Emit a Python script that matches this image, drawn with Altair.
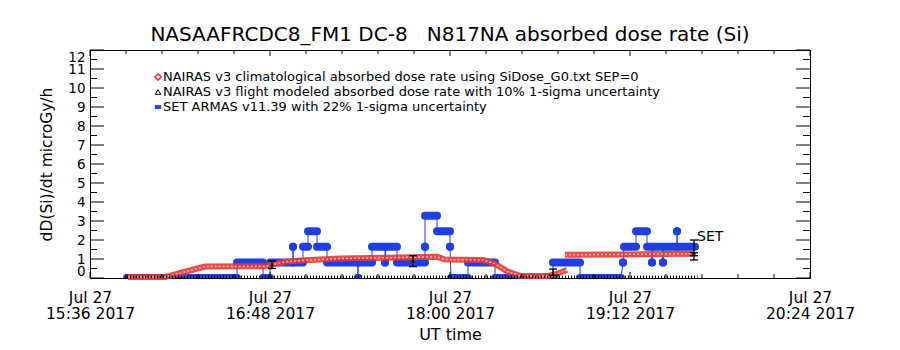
import altair as alt
import pandas as pd

FONT = "DejaVu Sans"
BLUE = "#1f3fe0"
RED = "#e23a36"

# ---------------- texts ----------------
title_text = "NASAAFRCDC8_FM1 DC-8\u00a0\u00a0 N817NA absorbed dose rate (Si)"
y_title = "dD(Si)/dt microGy/h"
x_title = "UT time"
date_label = "Jul 27"
year_label = "2017"
set_label = "SET"
legend_labels = [
    "NAIRAS v3 climatological absorbed dose rate using SiDose_G0.txt SEP=0",
    "NAIRAS v3 flight modeled absorbed dose rate with 10% 1-sigma uncertainty",
    "SET ARMAS v11.39 with 22% 1-sigma uncertainty",
]

# ---------------- axes ----------------
x_range = ["15:36", "20:24"]
x_tick_times = ["15:36", "16:48", "18:00", "19:12", "20:24"]
y_tick_values = list(range(0, 13))

# ---------------- data ----------------
# NAIRAS v3 climatological (red)
red_time = ["15:51:12", "16:06:00", "16:14:00", "16:22:00", "16:46:00", "16:54:00",
            "17:00:00", "17:16:00", "17:40:00", "17:54:48", "17:58:00", "18:13:12",
            "18:18:00", "18:22:48", "18:28:00", "18:38:48", "18:42:24", "18:46:48",
            "18:46:00", "19:08:00", "19:37:12"]
red_value = [0.05, 0.05, 0.33, 0.60, 0.62, 0.85,
             0.92, 1.02, 1.08, 1.12, 0.97, 0.95,
             0.75, 0.35, 0.12, 0.10, 0.20, 0.42,
             1.22, 1.24, 1.28]
red_segment = [1] * 18 + [2] * 3

# SET ARMAS (blue): runs of constant dose rate
set_start = ["15:50:48", "16:34:48", "16:45:12", "16:48:00", "16:57:12", "16:57:12",
             "17:01:12", "17:03:12", "17:06:48", "17:10:48", "17:23:12", "17:23:12",
             "17:28:48", "17:34:00", "17:34:24", "17:38:48", "17:50:00", "17:50:00",
             "17:54:48", "18:00:00", "18:00:24", "18:07:12", "18:18:00", "18:41:12",
             "18:52:00", "19:09:12", "19:09:36", "19:14:24", "19:18:48", "19:20:48",
             "19:21:12", "19:25:12", "19:25:36", "19:30:48", "19:30:48"]
set_end = ["16:34:48", "16:45:12", "16:48:00", "16:57:12", "16:57:12", "17:01:12",
           "17:03:12", "17:06:48", "17:10:48", "17:23:12", "17:23:12", "17:28:48",
           "17:34:00", "17:34:00", "17:38:48", "17:50:00", "17:50:00", "17:54:48",
           "18:00:00", "18:00:00", "18:07:12", "18:18:00", "18:41:12", "18:52:00",
           "19:08:24", "19:09:12", "19:14:24", "19:18:48", "19:20:48", "19:20:48",
           "19:24:48", "19:25:12", "19:30:48", "19:30:48", "19:38:00"]
set_level = [0.00, 0.82, 0.00, 0.82, 1.64, 0.82,
             1.64, 2.46, 1.64, 0.82, 0.00, 0.82,
             1.64, 0.82, 1.64, 0.82, 1.64, 3.28,
             2.46, 1.64, 0.00, 0.82, 0.00, 0.82,
             0.00, 0.82, 1.64, 2.46, 1.64, 0.82,
             1.64, 0.82, 1.64, 2.46, 1.64]

# NAIRAS v3 flight modeled (black) and uncertainty bars
flight_time = ["15:50:48", "19:39:00"]
flight_value = [0.0, 0.0]
err_time = ["16:48:48", "17:45:12", "18:41:12", "19:37:36"]
err_center = [0.72, 0.90, 0.20, 1.33]
err_low = [0.50, 0.60, 0.15, 0.95]
err_high = [0.90, 1.17, 0.47, 2.00]
extra_cap_time = ["19:37:36", "19:37:36"]
extra_cap_value = [1.33, 1.17]


def to_min(s):
    p = [float(v) for v in s.split(":")]
    return p[0] * 60 + p[1] + (p[2] / 60 if len(p) > 2 else 0)


red_df = pd.DataFrame({"t": [to_min(s) for s in red_time], "v": red_value,
                       "seg": red_segment, "order": list(range(len(red_time)))})
runs_df = pd.DataFrame({"t": [to_min(s) for s in set_start],
                        "t2": [to_min(s) for s in set_end], "v": set_level})
dots_df = runs_df[runs_df["t"] == runs_df["t2"]]
verts = []
for i, (a, b, lv) in enumerate(zip(set_start, set_end, set_level)):
    verts.append({"t": to_min(a), "v": lv, "order": 2 * i})
    verts.append({"t": to_min(b), "v": lv, "order": 2 * i + 1})
verts_df = pd.DataFrame(verts)
flight_df = pd.DataFrame({"t": [to_min(flight_time[0])], "t2": [to_min(flight_time[1])],
                          "v": [flight_value[0]]})
err_df = pd.DataFrame({"t": [to_min(s) for s in err_time], "c": err_center,
                       "lo": err_low, "hi": err_high})
caps_df = pd.DataFrame({"t": [to_min(s) for s in err_time] * 2 + [to_min(s) for s in extra_cap_time],
                        "v": err_low + err_high + extra_cap_value})
set_df = pd.DataFrame({"t": [to_min(err_time[-1])], "v": [err_high[-1]], "label": [set_label]})

x_major = [to_min(s) for s in x_tick_times]
x_minor = []
for a, b in zip(x_major[:-1], x_major[1:]):
    for k in range(1, 5):
        x_minor.append(a + (b - a) * k / 5)
y_minor = [v + 0.5 for v in y_tick_values[:-1]]

xmaj_df = pd.DataFrame({"t": x_major})
xmin_df = pd.DataFrame({"t": x_minor})
ymaj_df = pd.DataFrame({"v": y_tick_values})
ymin_df = pd.DataFrame({"v": y_minor})
one_df = pd.DataFrame({"k": [0]})

# ---------------- scales & axes ----------------
xs = alt.Scale(domain=[to_min(x_range[0]), to_min(x_range[1])], nice=False, zero=False)
ys = alt.Scale(domain=[0, 12], nice=False, zero=True)

x_label_expr = (
    f"['{date_label}', floor(datum.value / 60) + ':' + "
    f"(round(datum.value % 60) < 10 ? '0' : '') + round(datum.value % 60) + ' {year_label}']"
)
xaxis = alt.Axis(values=x_major, labelExpr=x_label_expr, ticks=False, tickSize=0, domain=False,
                 grid=False, labelFlush=False, labelOverlap=False, labelFont=FONT,
                 labelFontSize=15.5, labelColor="black", labelPadding=12, labelLineHeight=16,
                 title=x_title, titleFont=FONT, titleFontSize=16, titleFontWeight="normal",
                 titleColor="black", titlePadding=5)
yaxis = alt.Axis(values=y_tick_values, format="d", ticks=False, tickSize=0, domain=False,
                 grid=False, labelFlush=True, labelOverlap=False, labelFont=FONT,
                 labelFontSize=13.5, labelColor="black", labelPadding=5,
                 title=y_title, titleFont=FONT, titleFontSize=15.5, titleFontWeight="normal",
                 titleColor="black", titlePadding=13)


def X(f="t"):
    return alt.X(f, type="quantitative", scale=xs, axis=xaxis)


def Y(f="v"):
    return alt.Y(f, type="quantitative", scale=ys, axis=yaxis)


layers = []

# blue SET ARMAS
layers.append(alt.Chart(verts_df).mark_line(color=BLUE, strokeWidth=1, clip=True)
              .encode(x=X(), y=Y(), order="order:Q"))
layers.append(alt.Chart(runs_df).mark_rule(color=BLUE, strokeWidth=8, strokeCap="round", clip=True)
              .encode(x=X(), x2="t2", y=Y()))
layers.append(alt.Chart(dots_df).mark_circle(color=BLUE, size=64, opacity=1, clip=True)
              .encode(x=X(), y=Y()))

# red climatological
layers.append(alt.Chart(red_df).mark_line(color=RED, strokeWidth=6, opacity=0.9)
              .encode(x=X(), y=Y(), detail="seg:N", order="order:Q"))
layers.append(alt.Chart(red_df).mark_line(color="white", strokeWidth=1.5, strokeDash=[2, 2], opacity=0.6)
              .encode(x=X(), y=Y(), detail="seg:N", order="order:Q"))

# black flight modeled
layers.append(alt.Chart(flight_df).mark_rule(color="black", strokeWidth=5, strokeDash=[1, 2], clip=True)
              .encode(x=X(), x2="t2", y=Y()))
layers.append(alt.Chart(err_df).mark_rule(color="black", strokeWidth=1.3)
              .encode(x=X(), y=Y("lo"), y2="hi"))
layers.append(alt.Chart(caps_df).mark_point(shape="M-1,0L1,0", size=64, color="black",
                                            strokeWidth=1.3, filled=False, opacity=1)
              .encode(x=X(), y=Y()))
layers.append(alt.Chart(err_df).mark_point(shape="triangle-up", size=18, color="black",
                                           filled=True, opacity=1)
              .encode(x=X(), y=Y("c")))
layers.append(alt.Chart(set_df).mark_text(align="left", baseline="middle", dx=3, dy=-3,
                                          font=FONT, fontSize=14, color="black")
              .encode(x=X(), y=Y(), text="label:N"))

# tick marks (inward, IDL style box)
W, H = 720, 228
layers.append(alt.Chart(ymaj_df).mark_rule(color="black", strokeWidth=1)
              .encode(y=Y(), x=alt.value(0), x2=alt.value(14)))
layers.append(alt.Chart(ymin_df).mark_rule(color="black", strokeWidth=1)
              .encode(y=Y(), x=alt.value(0), x2=alt.value(7)))
layers.append(alt.Chart(ymaj_df).mark_rule(color="black", strokeWidth=1)
              .encode(y=Y(), x=alt.value(W), x2=alt.value(W - 14)))
layers.append(alt.Chart(ymin_df).mark_rule(color="black", strokeWidth=1)
              .encode(y=Y(), x=alt.value(W), x2=alt.value(W - 7)))
layers.append(alt.Chart(xmaj_df).mark_rule(color="black", strokeWidth=1)
              .encode(x=X(), y=alt.value(H), y2=alt.value(H - 6)))
layers.append(alt.Chart(xmin_df).mark_rule(color="black", strokeWidth=1)
              .encode(x=X(), y=alt.value(H), y2=alt.value(H - 4)))
layers.append(alt.Chart(xmaj_df).mark_rule(color="black", strokeWidth=1)
              .encode(x=X(), y=alt.value(0), y2=alt.value(6)))
layers.append(alt.Chart(xmin_df).mark_rule(color="black", strokeWidth=1)
              .encode(x=X(), y=alt.value(0), y2=alt.value(4)))

# legend (manual, IDL style)
leg_sym_x, leg_text_x, leg_y0, leg_dy = 68, 73, 27, 15
leg_shapes = [
    dict(shape="diamond", size=40, color=RED, filled=False, strokeWidth=1.6),
    dict(shape="triangle-up", size=30, color="black", filled=False, strokeWidth=1),
    dict(shape="M-1,-0.6L1,-0.6L1,0.6L-1,0.6Z", size=40, color=BLUE, filled=True),
]
for i, (lab, shp) in enumerate(zip(legend_labels, leg_shapes)):
    yy = leg_y0 + leg_dy * i
    layers.append(alt.Chart(one_df).mark_point(opacity=1, **shp)
                  .encode(x=alt.value(leg_sym_x), y=alt.value(yy)))
    layers.append(alt.Chart(one_df).mark_text(align="left", baseline="middle", font=FONT,
                                              fontSize=13, color="black", text=lab)
                  .encode(x=alt.value(leg_text_x), y=alt.value(yy)))

chart = (
    alt.layer(*layers)
    .properties(
        width=W, height=H,
        title=alt.TitleParams(title_text, font=FONT, fontSize=20, fontWeight="normal",
                              color="black", anchor="middle", offset=5),
        autosize=alt.AutoSizeParams(type="none"),
        padding={"left": 90, "top": 50, "right": 90, "bottom": 72},
        background="white",
    )
    .configure_view(stroke="black", strokeWidth=1)
)

chart.save("out.html", embed_options={"renderer": "svg", "actions": False})
